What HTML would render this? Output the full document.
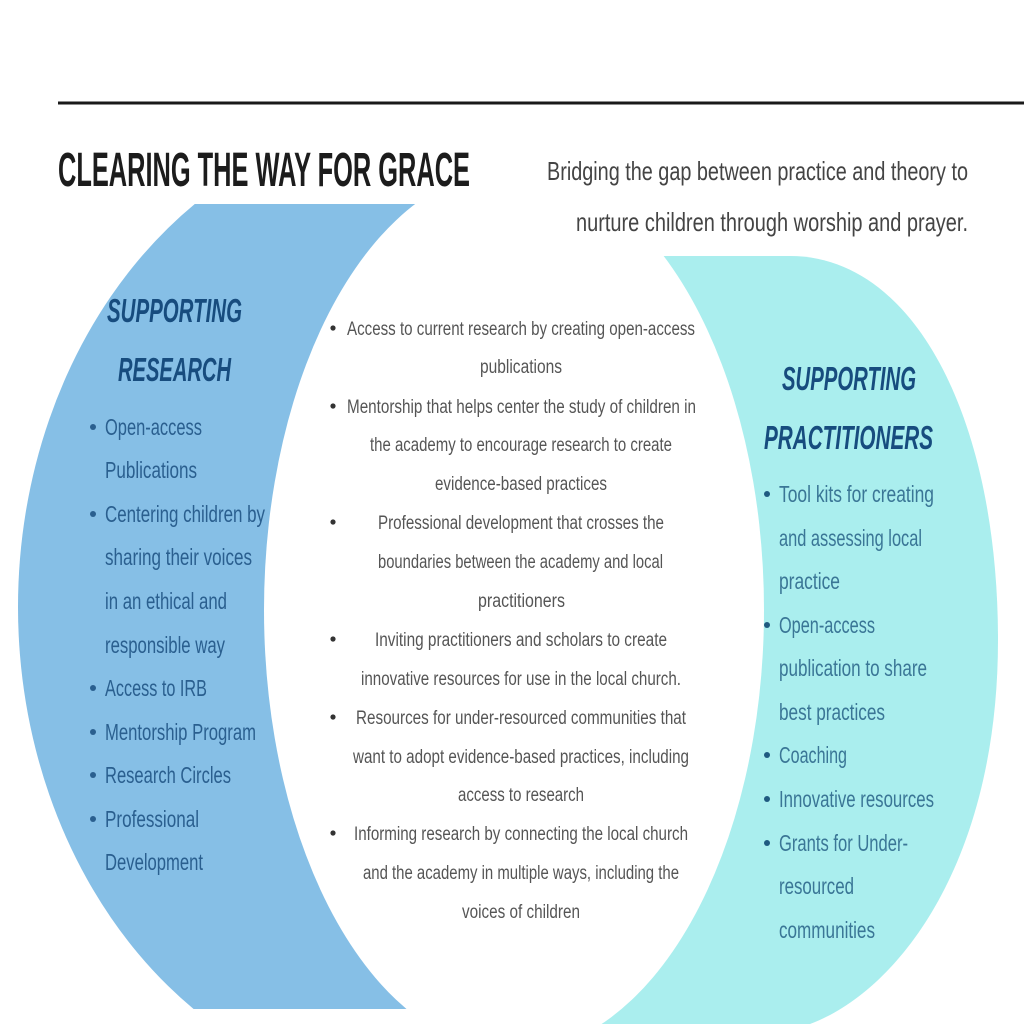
<!DOCTYPE html>
<html><head><meta charset="utf-8"><style>
html,body{margin:0;padding:0;background:#fff;width:1024px;height:1024px;overflow:hidden}
svg{display:block}
.m{font-family:"Liberation Sans Narrow","Liberation Sans",sans-serif;font-size:19px;fill:#555}
.l{font-family:"Liberation Sans Narrow","Liberation Sans",sans-serif;font-size:23px;fill:#2a5f8f}
.r{font-family:"Liberation Sans Narrow","Liberation Sans",sans-serif;font-size:23px;fill:#3a7696}
.h{font-family:"Liberation Sans Narrow","Liberation Sans",sans-serif;font-size:33px;font-weight:bold;font-style:italic;fill:#174c7e}
</style></head><body>
<svg width="1024" height="1024" viewBox="0 0 1024 1024" xmlns="http://www.w3.org/2000/svg">
<defs><clipPath id="cb"><rect x="0" y="204" width="430" height="805"/></clipPath>
<clipPath id="all"><rect x="0" y="0" width="1024" height="1024"/></clipPath></defs>
<g clip-path="url(#all)">
<ellipse cx="428" cy="607" rx="410" ry="490" fill="#86bfe6" clip-path="url(#cb)"/>
<path d="M 640 256 L 790 256 C 915 256 998 420 998 640 C 998 860 900 990 810 1024 L 540 1024 Z" fill="#aaeeee"/>
<ellipse cx="514" cy="610" rx="250" ry="442" fill="#ffffff"/>
</g>

<rect x="58" y="101.5" width="966" height="3" fill="#1a1a1a"/>
<text x="58" y="186" font-family="Liberation Sans Narrow,Liberation Sans,sans-serif" font-weight="bold" font-size="48" fill="#1c1c1c" textLength="412" lengthAdjust="spacingAndGlyphs">CLEARING THE WAY FOR GRACE</text>
<g font-family="Liberation Sans Narrow,Liberation Sans,sans-serif" font-size="26" fill="#444">
<text x="547" y="180" textLength="421" lengthAdjust="spacingAndGlyphs">Bridging the gap between practice and theory to</text>
<text x="576" y="231" textLength="392" lengthAdjust="spacingAndGlyphs">nurture children through worship and prayer.</text>
</g>

<g class="h">
<text x="107" y="322" textLength="135" lengthAdjust="spacingAndGlyphs">SUPPORTING</text>
<text x="118" y="381" textLength="113" lengthAdjust="spacingAndGlyphs">RESEARCH</text>
<text x="782" y="390" textLength="134" lengthAdjust="spacingAndGlyphs">SUPPORTING</text>
<text x="764" y="449" textLength="169" lengthAdjust="spacingAndGlyphs">PRACTITIONERS</text>
</g>

<g fill="#2a5f8f">
<circle cx="93" cy="427" r="3"/><circle cx="93" cy="514" r="3"/><circle cx="93" cy="688" r="3"/><circle cx="93" cy="732" r="3"/><circle cx="93" cy="775" r="3"/><circle cx="93" cy="819" r="3"/>
</g>
<g class="l">
<text x="105" y="435" textLength="97" lengthAdjust="spacingAndGlyphs">Open-access</text>
<text x="105" y="478" textLength="92" lengthAdjust="spacingAndGlyphs">Publications</text>
<text x="105" y="522" textLength="160" lengthAdjust="spacingAndGlyphs">Centering children by</text>
<text x="105" y="565" textLength="147" lengthAdjust="spacingAndGlyphs">sharing their voices</text>
<text x="105" y="609" textLength="122" lengthAdjust="spacingAndGlyphs">in an ethical and</text>
<text x="105" y="653" textLength="120" lengthAdjust="spacingAndGlyphs">responsible way</text>
<text x="105" y="696" textLength="102" lengthAdjust="spacingAndGlyphs">Access to IRB</text>
<text x="105" y="740" textLength="151" lengthAdjust="spacingAndGlyphs">Mentorship Program</text>
<text x="105" y="783" textLength="126" lengthAdjust="spacingAndGlyphs">Research Circles</text>
<text x="105" y="827" textLength="94" lengthAdjust="spacingAndGlyphs">Professional</text>
<text x="105" y="870" textLength="98" lengthAdjust="spacingAndGlyphs">Development</text>
</g>

<g fill="#1f5a80">
<circle cx="767" cy="494" r="3"/><circle cx="767" cy="625" r="3"/><circle cx="767" cy="755" r="3"/><circle cx="767" cy="799" r="3"/><circle cx="767" cy="843" r="3"/>
</g>
<g class="r">
<text x="779" y="502" textLength="155" lengthAdjust="spacingAndGlyphs">Tool kits for creating</text>
<text x="779" y="546" textLength="143" lengthAdjust="spacingAndGlyphs">and assessing local</text>
<text x="779" y="589" textLength="61" lengthAdjust="spacingAndGlyphs">practice</text>
<text x="779" y="633" textLength="96" lengthAdjust="spacingAndGlyphs">Open-access</text>
<text x="779" y="676" textLength="148" lengthAdjust="spacingAndGlyphs">publication to share</text>
<text x="779" y="720" textLength="106" lengthAdjust="spacingAndGlyphs">best practices</text>
<text x="779" y="763" textLength="68" lengthAdjust="spacingAndGlyphs">Coaching</text>
<text x="779" y="807" textLength="155" lengthAdjust="spacingAndGlyphs">Innovative resources</text>
<text x="779" y="851" textLength="129" lengthAdjust="spacingAndGlyphs">Grants for Under-</text>
<text x="779" y="894" textLength="75" lengthAdjust="spacingAndGlyphs">resourced</text>
<text x="779" y="938" textLength="96" lengthAdjust="spacingAndGlyphs">communities</text>
</g>

<g fill="#333">
<circle cx="333" cy="328" r="2.6"/><circle cx="333" cy="406" r="2.6"/><circle cx="333" cy="522" r="2.6"/><circle cx="333" cy="639" r="2.6"/><circle cx="333" cy="717" r="2.6"/><circle cx="333" cy="833" r="2.6"/>
</g>
<g class="m">
<text x="347" y="335" textLength="348" lengthAdjust="spacingAndGlyphs">Access to current research by creating open-access</text>
<text x="480" y="373" textLength="82" lengthAdjust="spacingAndGlyphs">publications</text>
<text x="347" y="413" textLength="349" lengthAdjust="spacingAndGlyphs">Mentorship that helps center the study of children in</text>
<text x="370" y="451" textLength="302" lengthAdjust="spacingAndGlyphs">the academy to encourage research to create</text>
<text x="435" y="490" textLength="172" lengthAdjust="spacingAndGlyphs">evidence-based practices</text>
<text x="378" y="529" textLength="286" lengthAdjust="spacingAndGlyphs">Professional development that crosses the</text>
<text x="378" y="568" textLength="285" lengthAdjust="spacingAndGlyphs">boundaries between the academy and local</text>
<text x="478" y="607" textLength="87" lengthAdjust="spacingAndGlyphs">practitioners</text>
<text x="375" y="646" textLength="292" lengthAdjust="spacingAndGlyphs">Inviting practitioners and scholars to create</text>
<text x="361" y="685" textLength="320" lengthAdjust="spacingAndGlyphs">innovative resources for use in the local church.</text>
<text x="356" y="724" textLength="330" lengthAdjust="spacingAndGlyphs">Resources for under-resourced communities that</text>
<text x="353" y="763" textLength="336" lengthAdjust="spacingAndGlyphs">want to adopt evidence-based practices, including</text>
<text x="458" y="801" textLength="126" lengthAdjust="spacingAndGlyphs">access to research</text>
<text x="354" y="840" textLength="334" lengthAdjust="spacingAndGlyphs">Informing research by connecting the local church</text>
<text x="363" y="879" textLength="316" lengthAdjust="spacingAndGlyphs">and the academy in multiple ways, including the</text>
<text x="462" y="918" textLength="118" lengthAdjust="spacingAndGlyphs">voices of children</text>
</g>
</svg>
</body></html>
